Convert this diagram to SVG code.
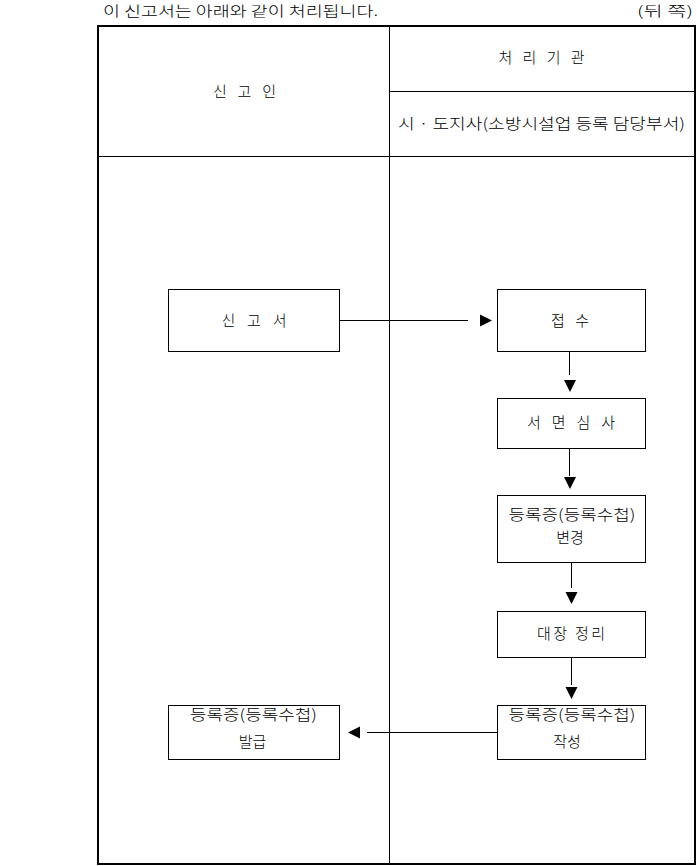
<svg xmlns="http://www.w3.org/2000/svg" width="697" height="866" viewBox="0 0 697 866">
<defs>
<style>
text{font-family:"Noto Sans CJK KR","Noto Sans",sans-serif;font-size:15px;font-weight:300;fill:#000;text-anchor:middle}
.top{font-size:14px;text-anchor:start}
.box{fill:#fff;stroke:#000;stroke-width:1}
.ln{stroke:#000;stroke-width:1;fill:none}
.head{fill:#000;stroke:none}
</style>
</defs>
<rect width="697" height="866" fill="#fff"/>
<text class="top" x="103" y="16" textLength="275" lengthAdjust="spacingAndGlyphs">이 신고서는 아래와 같이 처리됩니다.</text>
<text class="top" x="637" y="16" textLength="56" lengthAdjust="spacingAndGlyphs">(뒤 쪽)</text>
<g id="frame">
<rect x="98" y="26" width="597" height="838" fill="none" stroke="#000" stroke-width="2"/>
<line class="ln" x1="389.5" y1="26" x2="389.5" y2="864"/>
<line class="ln" x1="389.5" y1="91.5" x2="695" y2="91.5"/>
<line class="ln" x1="98" y1="156.5" x2="695" y2="156.5"/>
<text x="244.5" y="96.5" textLength="63" lengthAdjust="spacing">신 고 인</text>
<text x="541.5" y="62.5" textLength="86" lengthAdjust="spacing">처 리 기 관</text>
<text x="541.5" y="128.5" textLength="287" lengthAdjust="spacingAndGlyphs">시 · 도지사(소방시설업 등록 담당부서)</text>
</g>
<g id="connectors">
<line class="ln" x1="339" y1="320.5" x2="468" y2="320.5"/>
<polygon class="head" points="480,314.5 492,320.5 480,326.5"/>
<line class="ln" x1="569.5" y1="351" x2="569.5" y2="375"/>
<polygon class="head" points="564,380 576,380 570,392"/>
<line class="ln" x1="569.5" y1="448" x2="569.5" y2="476"/>
<polygon class="head" points="564,477 576,477 570,489"/>
<line class="ln" x1="571.5" y1="562" x2="571.5" y2="588"/>
<polygon class="head" points="565.5,592 577.5,592 571.5,604"/>
<line class="ln" x1="571.5" y1="657" x2="571.5" y2="685"/>
<polygon class="head" points="565.5,687 577.5,687 571.5,699"/>
<line class="ln" x1="497" y1="732.5" x2="367" y2="732.5"/>
<polygon class="head" points="360,726.5 360,738.5 348,732.5"/>
</g>
<g id="n-report">
<rect class="box" x="168.5" y="289.5" width="171" height="62"/>
<text x="254" y="326" textLength="65" lengthAdjust="spacing">신 고 서</text>
</g>
<g id="n-receive">
<rect class="box" x="497.5" y="289.5" width="148" height="62"/>
<text x="570" y="326" textLength="38" lengthAdjust="spacing">접 수</text>
</g>
<g id="n-review">
<rect class="box" x="497.5" y="398.5" width="148" height="50"/>
<text x="571" y="428" textLength="88" lengthAdjust="spacing">서 면 심 사</text>
</g>
<g id="n-change">
<rect class="box" x="497.5" y="495.5" width="148" height="67"/>
<text x="572" y="519.5" textLength="127" lengthAdjust="spacingAndGlyphs">등록증(등록수첩)</text>
<text x="570" y="542.5">변경</text>
</g>
<g id="n-ledger">
<rect class="box" x="497.5" y="611.5" width="148" height="46"/>
<text x="571" y="639" textLength="68" lengthAdjust="spacing">대장 정리</text>
</g>
<g id="n-write">
<rect class="box" x="497.5" y="705.5" width="148" height="54"/>
<text x="572" y="719.5" textLength="127" lengthAdjust="spacingAndGlyphs">등록증(등록수첩)</text>
<text x="567" y="746.5">작성</text>
</g>
<g id="n-issue">
<rect class="box" x="168.5" y="705.5" width="171" height="54"/>
<text x="253.5" y="719.5" textLength="127" lengthAdjust="spacingAndGlyphs">등록증(등록수첩)</text>
<text x="252.5" y="746.5">발급</text>
</g>
</svg>
